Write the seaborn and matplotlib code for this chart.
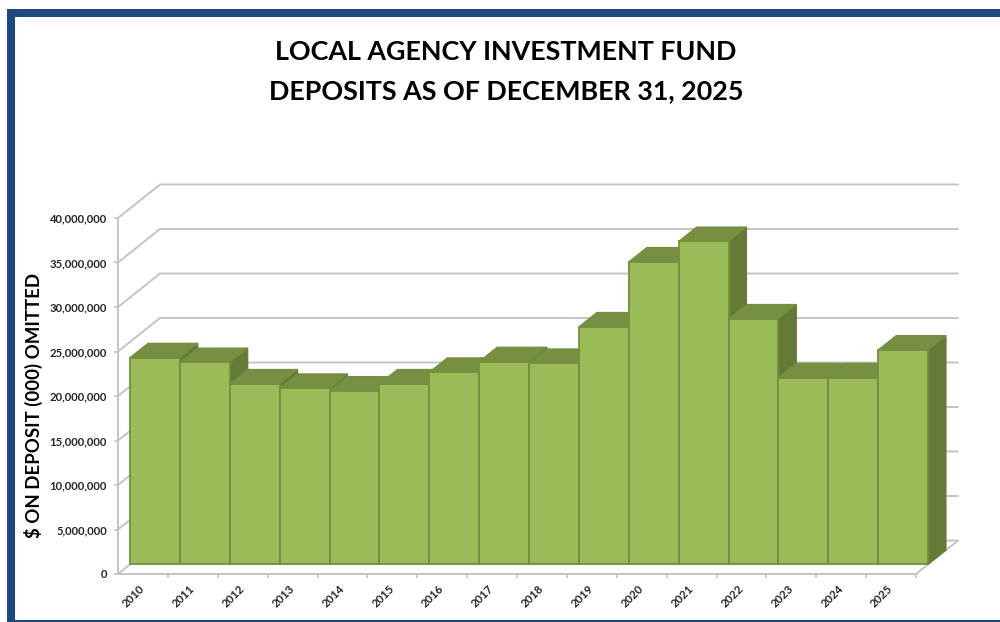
import numpy as np
import pandas as pd
import matplotlib
matplotlib.use("Agg")
import matplotlib.pyplot as plt
from matplotlib.patches import Polygon, Rectangle
from matplotlib.transforms import Affine2D
import seaborn as sns

years = ["2010", "2011", "2012", "2013", "2014", "2015", "2016", "2017",
         "2018", "2019", "2020", "2021", "2022", "2023", "2024", "2025"]
deposits = [23.24e6, 22.7e6, 20.3e6, 19.8e6, 19.5e6, 20.3e6, 21.6e6, 22.8e6,
            22.6e6, 26.7e6, 34.0e6, 36.3e6, 27.6e6, 21.0e6, 21.0e6, 24.1e6]
y_ticks = [0, 5e6, 10e6, 15e6, 20e6, 25e6, 30e6, 35e6, 40e6]
title_lines = ["LOCAL AGENCY INVESTMENT FUND", "DEPOSITS AS OF DECEMBER 31, 2025"]
y_title = "$ ON DEPOSIT (000) OMITTED"

W, H = 1000, 622
FRONT = "#9BBB59"
EDGE = "#71903C"
TOP = "#768F43"
SIDE = "#657A36"
GRID = "#C4C4C4"
NAVY = "#1F497D"

sns.set_style("white")
plt.rcParams["font.family"] = ["Lato", "DejaVu Sans"]
plt.rcParams["font.weight"] = "bold"

fig = plt.figure(figsize=(W / 100, H / 100), dpi=100, facecolor="white")

# front plane of the chart box, in pixels
left, right, base, top = 118, 916, 574, 218
ax = fig.add_axes([left / W, (H - base) / H, (right - left) / W, (base - top) / H])
ax.patch.set_alpha(0)

df = pd.DataFrame({"year": years, "deposits": deposits})
sns.barplot(data=df, x="year", y="deposits", width=1.0, color=FRONT, saturation=1,
            edgecolor=EDGE, linewidth=1.3, ax=ax)
ax.set_xlim(-0.5, len(years) - 0.5)
ax.set_ylim(0, 40e6)

# depth of the box in data units
unit_x = (right - left) / len(years)
unit_y = (base - top) / 40e6
depth_x, depth_y = 42 / unit_x, 33.5 / unit_y
# bars stand between these fractions of the depth
t0, t1 = 12 / 42, 30 / 42
x0, x1 = -0.5, len(years) - 0.5

# walls
for v in y_ticks:
    ax.plot([x0, x0 + depth_x, x1 + depth_x], [v, v + depth_y, v + depth_y],
            color=GRID, lw=1.4, clip_on=False, zorder=1, solid_joinstyle="miter")
ax.plot([x1, x1 + depth_x], [0, depth_y], color=GRID, lw=1.4, clip_on=False, zorder=1)

# bars: side, top, front from left to right so nearer bars overlap
shift = Affine2D().translate(t0 * depth_x, t0 * depth_y) + ax.transData
dx, dy = (t1 - t0) * depth_x, (t1 - t0) * depth_y
for i, bar in enumerate(ax.patches):
    bx, bw, bh = bar.get_x(), bar.get_width(), bar.get_height()
    z = 3 + i * 3
    side = Polygon([(bx + bw, 0), (bx + bw + dx, dy), (bx + bw + dx, bh + dy), (bx + bw, bh)],
                   closed=True, facecolor=SIDE, edgecolor=SIDE, lw=0.8,
                   transform=shift, clip_on=False, zorder=z)
    cap = Polygon([(bx, bh), (bx + dx, bh + dy), (bx + bw + dx, bh + dy), (bx + bw, bh)],
                  closed=True, facecolor=TOP, edgecolor=EDGE, lw=0.8,
                  transform=shift, clip_on=False, zorder=z + 1)
    ax.add_patch(side)
    ax.add_patch(cap)
    bar.set_transform(shift)
    bar.set_clip_on(False)
    bar.set_zorder(z + 2)

# axes
for s in ("top", "right"):
    ax.spines[s].set_visible(False)
for s in ("left", "bottom"):
    ax.spines[s].set_color(GRID)
    ax.spines[s].set_linewidth(1.4)
    ax.spines[s].set_zorder(2)

ax.set_yticks(y_ticks)
ax.set_yticklabels([f"{int(v):,}" for v in y_ticks], fontsize=8.1, fontweight="bold", color="#262626")
ax.tick_params(axis="y", left=True, length=3, width=1.2, color=GRID, pad=5)

centers = np.arange(len(years))
ax.set_xticks(centers + 0.5)
ax.set_xticklabels([""] * len(years))
ax.set_xticks(centers, minor=True)
ax.set_xticklabels(years, minor=True, rotation=45, ha="right", va="center",
                   rotation_mode="anchor", fontsize=8.2, fontweight="bold", color="#262626")
ax.tick_params(axis="x", which="major", bottom=True, length=3, width=1.2, color=GRID)
ax.tick_params(axis="x", which="minor", bottom=False, length=0, pad=9)
ax.set_xlabel("")
ax.set_ylabel("")

fig.text(33 / W, 1 - 405 / H, y_title, rotation=90, ha="center", va="center",
         fontsize=13.4, fontweight="bold", color="black")
fig.text(506 / W, 1 - 51.5 / H, title_lines[0], ha="center", va="center",
         fontsize=19.4, fontweight="bold", color="black")
fig.text(506 / W, 1 - 91 / H, title_lines[1], ha="center", va="center",
         fontsize=19.4, fontweight="bold", color="black")

# slide frame
for (fx, fy, fw, fh) in [(7, 9, 993, 8), (7, 9, 8, 613), (7, 620, 993, 2)]:
    fig.add_artist(Rectangle((fx / W, 1 - (fy + fh) / H), fw / W, fh / H,
                             transform=fig.transFigure, facecolor=NAVY, edgecolor="none"))

fig.savefig("out.png", dpi=100)
